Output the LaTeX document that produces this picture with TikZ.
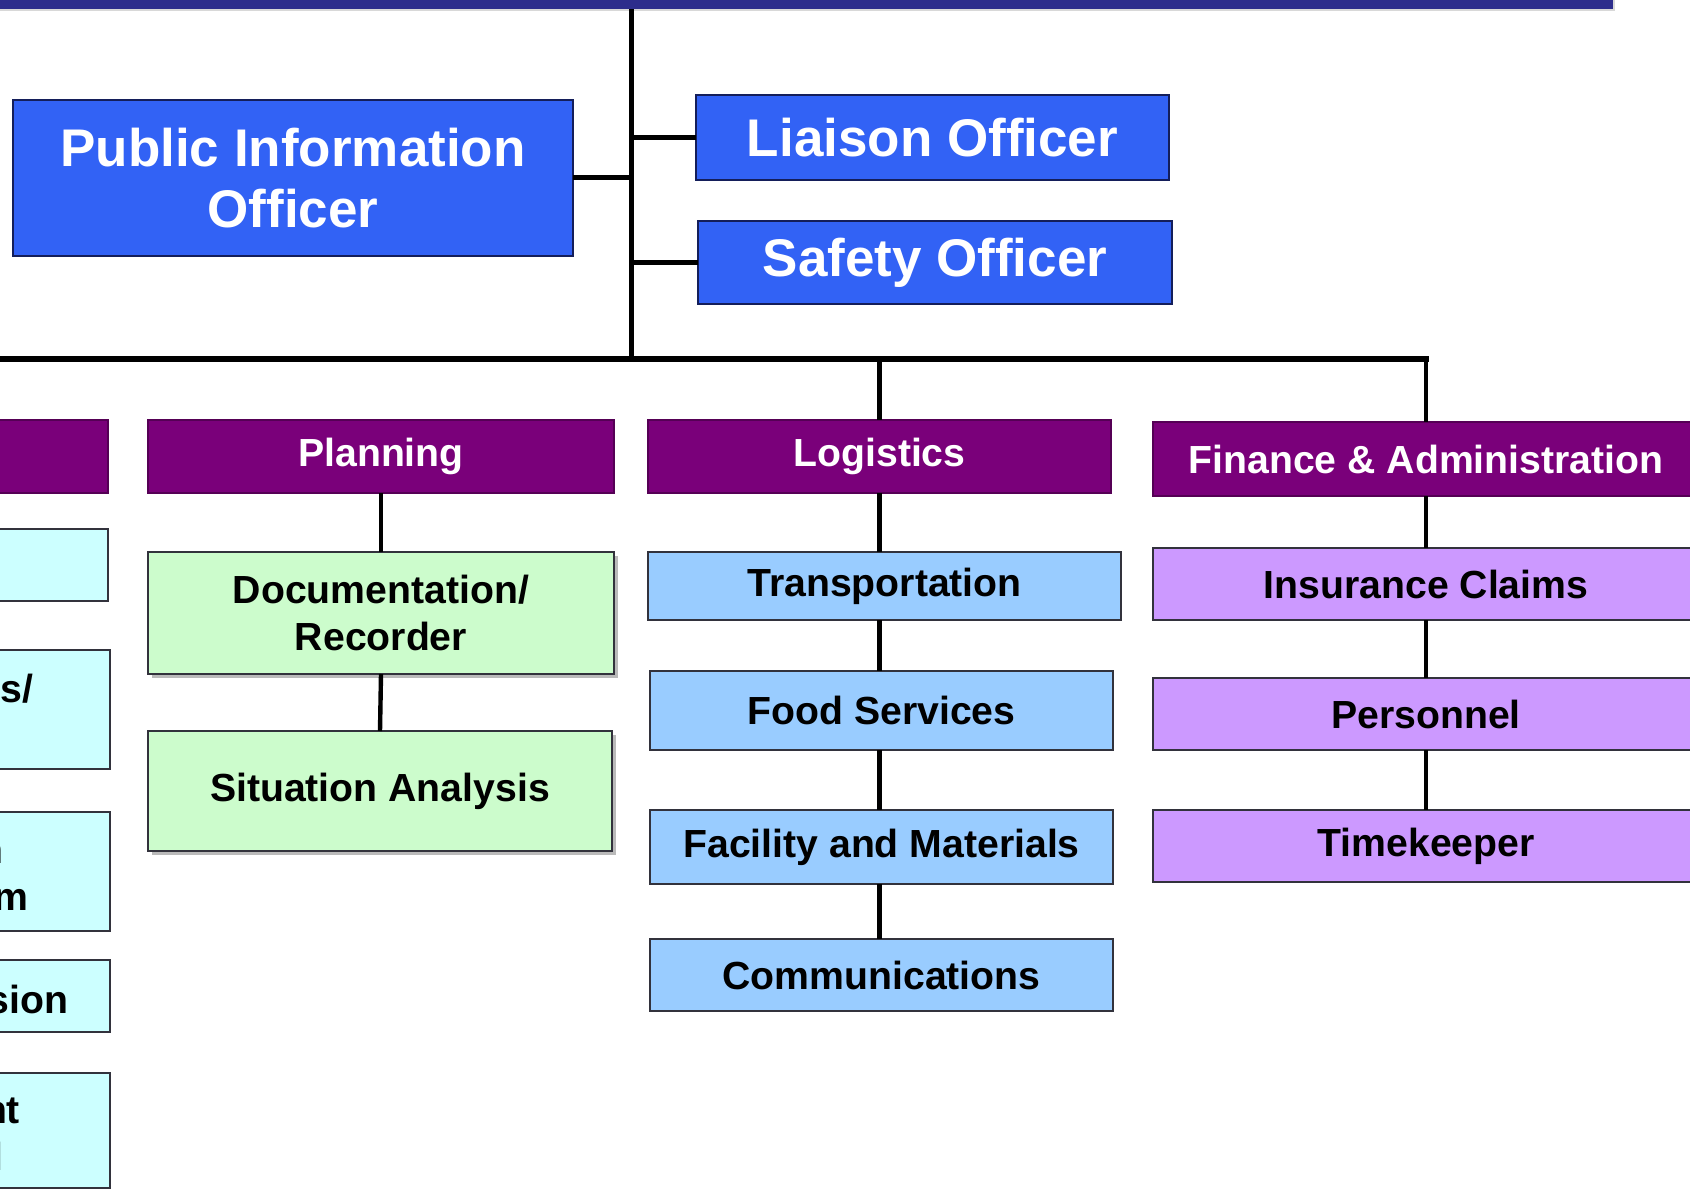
\documentclass[tikz,border=0pt]{standalone}
\usepackage{fontspec}
\setmainfont{Liberation Sans}
\usetikzlibrary{shadows}
\definecolor{navybar}{RGB}{45,45,140}
\definecolor{offblue}{RGB}{50,98,245}
\definecolor{offedge}{RGB}{20,30,90}
\definecolor{hdr}{RGB}{122,0,122}
\definecolor{cyanbox}{RGB}{204,255,255}
\definecolor{greenbox}{RGB}{204,252,204}
\definecolor{bluebox}{RGB}{153,204,255}
\definecolor{lavbox}{RGB}{204,153,255}
\definecolor{edge}{RGB}{50,50,60}
\newcommand{\smallfnt}{\fontsize{19.6pt}{23.5pt}\selectfont\bfseries}
\newcommand{\bigfnt}{\fontsize{26.5pt}{30.5pt}\selectfont\bfseries}
\begin{document}
\begin{tikzpicture}[x=0.5pt,y=-0.5pt,
 wh/.style 2 args={minimum width=#1*0.5pt,minimum height=#2*0.5pt},
 box/.style={draw=edge,line width=1pt,inner sep=0pt,outer sep=0pt,align=center,font=\smallfnt,text=black},
 officer/.style={box,draw=offedge,fill=offblue,text=white,font=\bigfnt},
 header/.style={box,draw=hdr!70!black,fill=hdr,text=white},
 opsbox/.style={box,fill=cyanbox},
 planbox/.style={box,fill=greenbox,drop shadow={shadow xshift=2pt,shadow yshift=-2pt,fill=black!45,opacity=.6}},
 logbox/.style={box,fill=bluebox},
 finbox/.style={box,fill=lavbox},
 trunk/.style={line width=2.5pt,black},
 bus/.style={line width=3.2pt,black,line cap=rect},
 link/.style={line width=2.2pt,black},
 frag/.style={inner sep=0pt,outer sep=0pt,font=\smallfnt,text=black,anchor=base east},
]
\useasboundingbox (0,0) rectangle (1690,1192);
\clip (0,0) rectangle (1690,1192);
\fill[white] (0,0) rectangle (1690,1192);

% top bar
\node[box,draw=none,fill=navybar,wh={1623}{19},drop shadow={shadow xshift=1pt,shadow yshift=-1pt,fill=black!30,opacity=.5}] (bar) at (801.5,-0.5) {};

% command staff
\node[officer,wh={560}{156}] (pio) at (293,178) {Public Information\\Officer};
\node[officer,wh={473}{85}] (lia) at (932.5,137.5) {Liaison Officer};
\node[officer,wh={474}{83}] (saf) at (935,262.5) {Safety Officer};

% section headers
\node[header,wh={118}{73}] (ops) at (49,456.5) {};
\node[header,wh={466}{73}] (plan) at (381,456.5) {Planning};
\node[header,wh={463}{73}] (log) at (879.5,456.5) {Logistics};
\node[header,wh={546}{74}] (fin) at (1426,459) {Finance \& Administration};

% operations column (cut off)
\node[opsbox,wh={118}{72}] (o1) at (49,565) {};
\node[opsbox,wh={120}{119}] (o2) at (50,709.5) {};
\node[opsbox,wh={120}{119}] (o3) at (50,871.5) {};
\node[opsbox,wh={120}{72}] (o4) at (50,996) {};
\node[opsbox,wh={120}{115}] (o5) at (50,1130.5) {};
\node[frag] (f2) at (33,702) {s/};
\node[frag] (f3a) at (3,863) {n};
\node[frag] (f3b) at (28,910) {m};
\node[frag] (f4) at (68,1013) {sion};
\node[frag] (f5a) at (20,1123) {nt};
\node[frag] (f5b) at (3,1170) {l};

% planning
\node[planbox,wh={466}{122}] (doc) at (381,613) {Documentation/\\Recorder};
\node[planbox,wh={464}{120}] (sit) at (380,791) {Situation Analysis};

% logistics
\node[logbox,wh={473}{68}] (trans) at (884.5,586) {Transportation};
\node[logbox,wh={463}{79}] (food) at (881.5,710.5) {Food Services};
\node[logbox,wh={463}{74}] (fac) at (881.5,847) {Facility and Materials};
\node[logbox,wh={463}{72}] (comm) at (881.5,975) {Communications};

% finance
\node[finbox,wh={546}{72}] (ins) at (1426,584) {Insurance Claims};
\node[finbox,wh={546}{72}] (pers) at (1426,714) {Personnel};
\node[finbox,wh={546}{72}] (time) at (1426,846) {Timekeeper};

% connectors
\coordinate (ttop) at (631,9);
\coordinate (tbot) at (631,359);
\coordinate (busL) at (-5,359);
\draw[trunk] (ttop) -- (tbot);
\draw[bus] (busL) -- (tbot -| fin.north);
\draw[trunk] (pio.east) -- (pio.east -| ttop);
\draw[trunk] (lia.west -| ttop) -- (lia.west);
\draw[trunk] (saf.west -| ttop) -- (saf.west);
\draw[link] (log.north |- tbot) -- (log.north);
\draw[link] (fin.north |- tbot) -- (fin.north);

\draw[link] (plan.south) -- (doc.north);
\draw[link] (doc.south) -- (sit.north);

\draw[link] (log.south) -- (log.south |- trans.north);
\draw[link] (trans.south -| log.south) -- (food.north -| log.south);
\draw[link] (food.south -| log.south) -- (fac.north -| log.south);
\draw[link] (fac.south -| log.south) -- (comm.north -| log.south);

\draw[link] (fin.south) -- (ins.north);
\draw[link] (ins.south) -- (pers.north);
\draw[link] (pers.south) -- (time.north);
\end{tikzpicture}
\end{document}
